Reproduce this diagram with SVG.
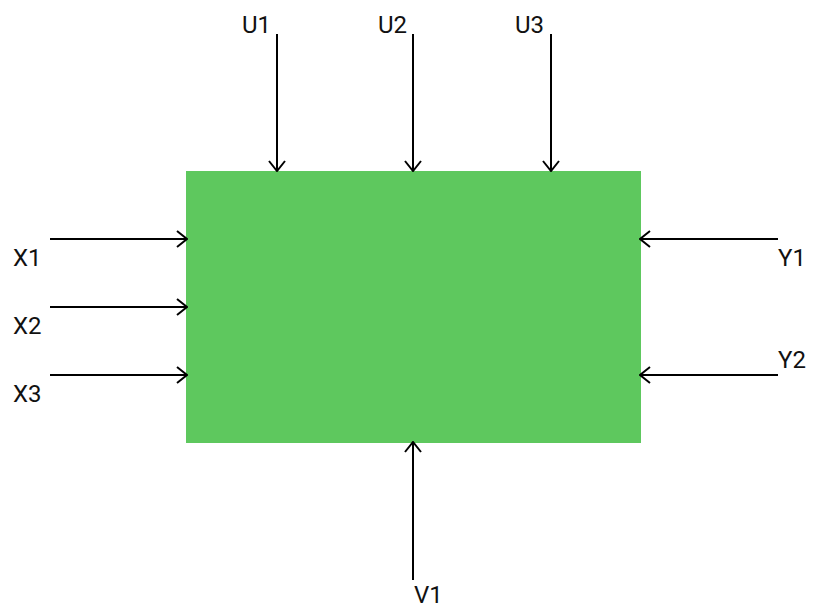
<svg xmlns="http://www.w3.org/2000/svg" width="813" height="606" viewBox="0 0 813 606">
<style>
.lbl{font-family:Roboto,"Liberation Sans",sans-serif;font-size:24px;fill:#111}
.ln{stroke:#000;stroke-width:2;fill:none}
</style>
<defs>
<marker id="ah" viewBox="0 0 12 18" refX="11" refY="9" markerWidth="12" markerHeight="18" markerUnits="userSpaceOnUse" orient="auto">
<path d="M1,1 L11,9 L1,17" fill="none" stroke="#000" stroke-width="2"/>
</marker>
</defs>
<rect width="813" height="606" fill="#fff"/>
<g id="block"><rect x="186" y="171" width="455" height="272" fill="#5ec85e"/></g>
<g id="connectors">
<line class="ln" x1="277" y1="34" x2="277" y2="171" marker-end="url(#ah)"/>
<line class="ln" x1="413" y1="34" x2="413" y2="171" marker-end="url(#ah)"/>
<line class="ln" x1="551" y1="34" x2="551" y2="171" marker-end="url(#ah)"/>
<line class="ln" x1="50" y1="239" x2="187" y2="239" marker-end="url(#ah)"/>
<line class="ln" x1="50" y1="307" x2="187" y2="307" marker-end="url(#ah)"/>
<line class="ln" x1="50" y1="375" x2="187" y2="375" marker-end="url(#ah)"/>
<line class="ln" x1="778" y1="239" x2="640" y2="239" marker-end="url(#ah)"/>
<line class="ln" x1="778" y1="375" x2="640" y2="375" marker-end="url(#ah)"/>
<line class="ln" x1="413" y1="580" x2="413" y2="442" marker-end="url(#ah)"/>
</g>
<g id="labels">
<text class="lbl" x="242" y="33">U1</text>
<text class="lbl" x="378" y="33">U2</text>
<text class="lbl" x="515" y="33">U3</text>
<text class="lbl" x="13" y="266">X1</text>
<text class="lbl" x="13" y="334">X2</text>
<text class="lbl" x="13" y="402">X3</text>
<text class="lbl" x="778" y="266">Y1</text>
<text class="lbl" x="778" y="368">Y2</text>
<text class="lbl" x="414" y="603">V1</text>
</g>
</svg>
